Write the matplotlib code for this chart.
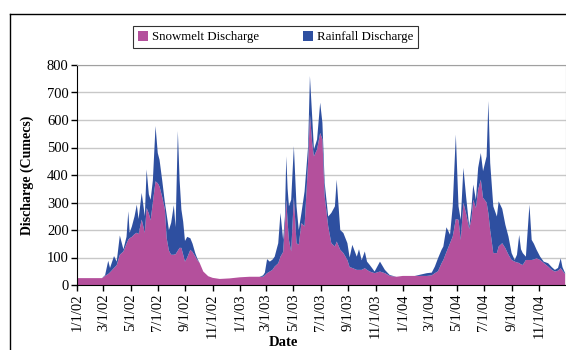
import matplotlib
matplotlib.use("Agg")
import matplotlib.pyplot as plt
from matplotlib.lines import Line2D
import numpy as np
import pandas as pd

plt.rcParams['font.family'] = ['Liberation Serif', 'DejaVu Serif']

# daily discharge read at the turning points of the hydrograph (cumecs)
dates = [
    '2002-01-01', '2002-02-26', '2002-03-05', '2002-03-12', '2002-03-16', '2002-03-25',
    '2002-03-31', '2002-04-07', '2002-04-15', '2002-04-22', '2002-04-26', '2002-04-29',
    '2002-05-04', '2002-05-10', '2002-05-15', '2002-05-19', '2002-05-26', '2002-06-02',
    '2002-06-06', '2002-06-11', '2002-06-15', '2002-06-20', '2002-06-26', '2002-07-01',
    '2002-07-05', '2002-07-11', '2002-07-17', '2002-07-21', '2002-07-26', '2002-07-31',
    '2002-08-06', '2002-08-10', '2002-08-15', '2002-08-19', '2002-08-23', '2002-08-27',
    '2002-08-31', '2002-09-05', '2002-09-12', '2002-09-17', '2002-09-23', '2002-09-28',
    '2002-10-03', '2002-10-11', '2002-10-22', '2002-11-01', '2002-11-17', '2002-12-09',
    '2003-01-01', '2003-01-23', '2003-02-14', '2003-02-22', '2003-02-26', '2003-03-03',
    '2003-03-09', '2003-03-15', '2003-03-20', '2003-03-28', '2003-04-02', '2003-04-08',
    '2003-04-12', '2003-04-15', '2003-04-18', '2003-04-21', '2003-04-26', '2003-05-02',
    '2003-05-08', '2003-05-13', '2003-05-19', '2003-05-26', '2003-06-03', '2003-06-07',
    '2003-06-12', '2003-06-16', '2003-06-23', '2003-06-30', '2003-07-05', '2003-07-10',
    '2003-07-18', '2003-07-25', '2003-08-02', '2003-08-06', '2003-08-14', '2003-08-21',
    '2003-08-30', '2003-09-04', '2003-09-10', '2003-09-20', '2003-09-25', '2003-10-01',
    '2003-10-08', '2003-10-13', '2003-10-19', '2003-10-30', '2003-11-11', '2003-11-22',
    '2003-12-03', '2003-12-18', '2004-01-01', '2004-01-28', '2004-02-24', '2004-03-06',
    '2004-03-13', '2004-03-20', '2004-03-28', '2004-04-01', '2004-04-08', '2004-04-16',
    '2004-04-22', '2004-04-29', '2004-05-05', '2004-05-10', '2004-05-16', '2004-05-22',
    '2004-05-29', '2004-06-03', '2004-06-07', '2004-06-13', '2004-06-18', '2004-06-24',
    '2004-06-29', '2004-07-07', '2004-07-11', '2004-07-15', '2004-07-22', '2004-07-30',
    '2004-08-03', '2004-08-11', '2004-08-18', '2004-08-25', '2004-09-01', '2004-09-08',
    '2004-09-13', '2004-09-18', '2004-09-22', '2004-09-26', '2004-10-03', '2004-10-11',
    '2004-10-16', '2004-10-21', '2004-10-27', '2004-11-04', '2004-11-12', '2004-11-22',
    '2004-11-30', '2004-12-07', '2004-12-14', '2004-12-20', '2004-12-24', '2004-12-30',
]

snowmelt = [
    25, 25, 33, 40, 46, 62,
    72, 110, 122, 150, 165, 170,
    175, 185, 190, 185, 238, 190,
    280, 260, 235, 300, 377, 370,
    358, 320, 275, 170, 125, 110,
    110, 112, 125, 135, 135, 110,
    85, 100, 128, 120, 104, 90,
    80, 49, 32, 26, 22, 24,
    28, 30, 30, 30, 35, 43,
    49, 55, 67, 79, 103, 120,
    220, 310, 230, 164, 122, 320,
    152, 146, 225, 213, 450, 620,
    518, 468, 493, 553, 530, 323,
    213, 152, 140, 158, 128, 116,
    91, 65, 62, 55, 55, 55,
    61, 55, 49, 43, 49, 43,
    33, 30, 33, 33, 33, 35,
    43, 50, 79, 91, 120, 152,
    176, 240, 237, 164, 299, 260,
    204, 240, 310, 280, 347, 383,
    317, 300, 260, 200, 116, 116,
    140, 152, 134, 110, 91, 85,
    82, 80, 75, 73, 91, 91,
    91, 93, 97, 91, 80, 67,
    55, 49, 52, 61, 52, 40,
]

total = [
    25, 25, 36, 88, 62, 105,
    85, 180, 130, 175, 268, 190,
    213, 250, 292, 240, 335, 250,
    420, 330, 310, 380, 578, 480,
    455, 380, 299, 256, 200, 226,
    290, 210, 560, 380, 274, 230,
    160, 175, 170, 150, 116, 95,
    80, 49, 32, 26, 22, 24,
    28, 30, 30, 35, 45, 94,
    85, 92, 103, 152, 262, 164,
    250, 468, 350, 286, 310, 505,
    286, 200, 262, 340, 505, 760,
    614, 493, 529, 663, 590, 372,
    249, 262, 286, 383, 200, 189,
    152, 100, 146, 103, 130, 90,
    122, 85, 73, 49, 85, 55,
    36, 30, 33, 33, 43, 45,
    67, 97, 128, 140, 210, 183,
    286, 547, 286, 237, 426, 322,
    213, 280, 365, 310, 426, 480,
    414, 468, 669, 444, 286, 249,
    304, 277, 219, 176, 116, 91,
    110, 182, 130, 116, 103, 292,
    164, 150, 128, 103, 85, 79,
    65, 55, 62, 97, 65, 43,
]

rainfall = [t - s for t, s in zip(total, snowmelt)]

x = pd.to_datetime(dates)
snow_c = '#B4509C'
rain_c = '#2E4FA0'

fig = plt.figure(figsize=(5.66, 3.5), dpi=100)
ax = fig.add_axes([77 / 566, 65 / 350, 488.6 / 566, 220 / 350])

ax.stackplot(x, snowmelt, rainfall, colors=[snow_c, rain_c],
             labels=['Snowmelt Discharge', 'Rainfall Discharge'], linewidth=0)

ax.set_xlim(pd.Timestamp('2002-01-01'), pd.Timestamp('2004-12-31'))
ax.set_ylim(0, 800)
ax.set_yticks(np.arange(0, 801, 100))

ticks = pd.date_range('2002-01-01', '2004-11-01', freq='2MS')
ax.set_xticks(ticks)
ax.set_xticklabels([f'{d.month}/{d.day}/{d:%y}' for d in ticks], rotation=90)

ax.grid(axis='y', color='#C8C8C8', linewidth=1)
ax.set_axisbelow(True)
for side in ['top', 'right']:
    ax.spines[side].set_color('#A0A0A0')
for side in ['left', 'bottom']:
    ax.spines[side].set_color('black')
ax.tick_params(axis='both', labelsize=10.5, length=4, width=1, color='black', pad=2)

ax.set_ylabel('Discharge (Cumecs)', fontsize=10, fontweight='bold')
ax.yaxis.set_label_coords((34 - 77) / 488.6, 0.5)
fig.text(283 / 566, 1 - 343 / 350, 'Date', fontsize=10.5, fontweight='bold',
         ha='center', va='center')

leg = fig.legend(loc='center', bbox_to_anchor=(275.5 / 566, 1 - 37 / 350), ncol=2,
                 fontsize=9.3, frameon=True, fancybox=False, edgecolor='black',
                 handlelength=0.8, handleheight=0.8, handletextpad=0.3,
                 columnspacing=3.4, borderpad=0.35)
leg.get_frame().set_linewidth(0.8)

# chart-area border (top and left edges)
fig.add_artist(Line2D([10 / 566, 1.0], [1 - 14 / 350, 1 - 14 / 350],
                      transform=fig.transFigure, color='black', linewidth=1))
fig.add_artist(Line2D([10 / 566, 10 / 566], [0.0, 1 - 14 / 350],
                      transform=fig.transFigure, color='black', linewidth=1))

fig.savefig('out.png', dpi=100)
